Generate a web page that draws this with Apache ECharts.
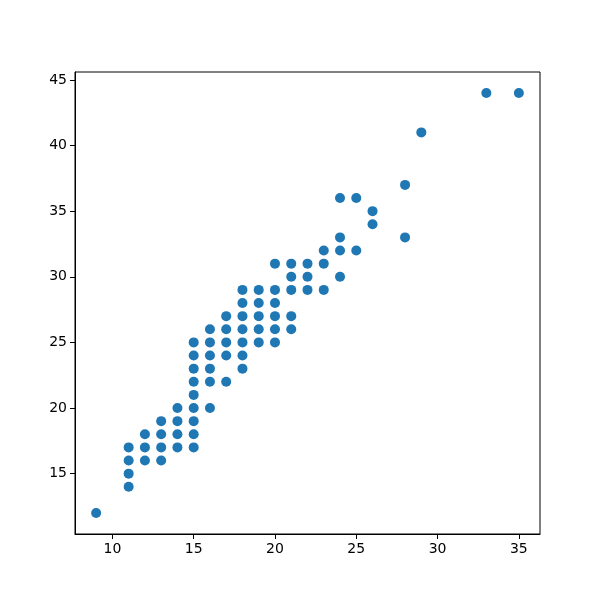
<!DOCTYPE html>
<html>
<head>
<meta charset="utf-8">
<script src="https://cdn.jsdelivr.net/npm/echarts@6/dist/echarts.min.js"></script>
<style>html,body{margin:0;padding:0;background:#fff}#c{width:600px;height:600px}</style>
</head>
<body>
<div id="c"></div>
<script>
// cty -> list of hwy values observed at that cty
const ctyValues = [9, 11, 12, 13, 14, 15, 16, 17, 18, 19, 20, 21, 22, 23, 24, 25, 26, 28, 29, 33, 35];
const hwyByCty = [
  [12],
  [14, 15, 16, 17],
  [16, 17, 18],
  [16, 17, 18, 19],
  [17, 18, 19, 20],
  [17, 18, 19, 20, 21, 22, 23, 24, 25],
  [20, 22, 23, 24, 25, 26],
  [22, 24, 25, 26, 27],
  [23, 24, 25, 26, 27, 28, 29],
  [25, 26, 27, 28, 29],
  [25, 26, 27, 28, 29, 31],
  [26, 27, 29, 30, 31],
  [29, 30, 31],
  [29, 31, 32],
  [30, 32, 33, 36],
  [32, 36],
  [34, 35],
  [33, 37],
  [41],
  [44],
  [44]
];
const xTicks = [10, 15, 20, 25, 30, 35];
const yTicks = [15, 20, 25, 30, 35, 40, 45];

const points = [];
ctyValues.forEach((c, i) => hwyByCty[i].forEach(h => points.push([c, h])));

const chart = echarts.init(document.getElementById('c'), null, {renderer: 'canvas'});
const font = {color: '#000', fontSize: 14, fontFamily: 'DejaVu Sans'};
chart.setOption({
  animation: false,
  backgroundColor: '#fff',
  grid: {left: 75, right: 60, top: 72, bottom: 66, show: true, borderColor: '#000', borderWidth: 1, backgroundColor: 'transparent'},
  xAxis: {
    type: 'value', min: 7.7, max: 36.3,
    axisLine: {show: true, lineStyle: {color: '#000', width: 1}},
    axisTick: {show: true, inside: false, length: 5, lineStyle: {color: '#000'}, customValues: xTicks},
    axisLabel: Object.assign({margin: 8, customValues: xTicks}, font),
    splitLine: {show: false}
  },
  yAxis: {
    type: 'value', min: 10.4, max: 45.6,
    axisLine: {show: true, lineStyle: {color: '#000', width: 1}},
    axisTick: {show: true, inside: false, length: 5, lineStyle: {color: '#000'}, customValues: yTicks},
    axisLabel: Object.assign({margin: 8, customValues: yTicks}, font),
    splitLine: {show: false}
  },
  series: [{
    type: 'scatter',
    data: points,
    symbol: 'circle',
    symbolSize: 10,
    itemStyle: {color: '#1f77b4', opacity: 1}
  }]
});
</script>
</body>
</html>
